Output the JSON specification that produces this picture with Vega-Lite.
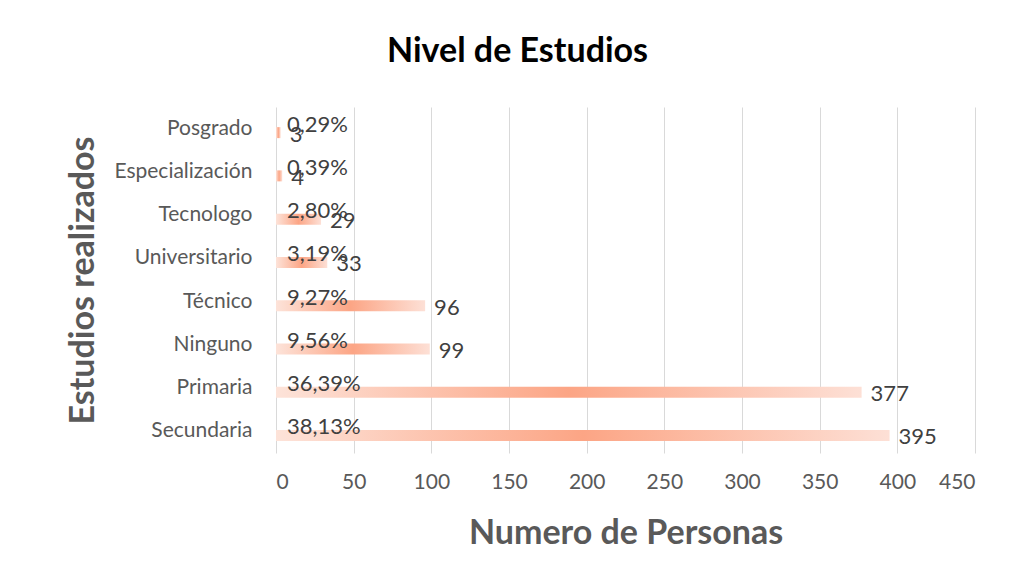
{
  "$schema": "https://vega.github.io/schema/vega-lite/v6.json",
  "width": 699,
  "height": 346,
  "autosize": "none",
  "padding": {"left": 276, "top": 107, "right": 49, "bottom": 127},
  "background": "white",
  "config": {
    "font": "Lato",
    "view": {"stroke": null}
  },
  "title": {
    "text": "Nivel de Estudios",
    "font": "Lato",
    "fontSize": 34,
    "fontWeight": "bold",
    "color": "#000000",
    "anchor": "middle",
    "frame": "group",
    "dx": -108,
    "baseline": "alphabetic",
    "offset": 11
  },
  "data": {
    "values": [
      {"nivel": "Posgrado", "personas": 3, "pct": "0,29%"},
      {"nivel": "Especialización", "personas": 4, "pct": "0,39%"},
      {"nivel": "Tecnologo", "personas": 29, "pct": "2,80%"},
      {"nivel": "Universitario", "personas": 33, "pct": "3,19%"},
      {"nivel": "Técnico", "personas": 96, "pct": "9,27%"},
      {"nivel": "Ninguno", "personas": 99, "pct": "9,56%"},
      {"nivel": "Primaria", "personas": 377, "pct": "36,39%"},
      {"nivel": "Secundaria", "personas": 395, "pct": "38,13%"}
    ]
  },
  "encoding": {
    "y": {
      "field": "nivel",
      "type": "nominal",
      "sort": ["Posgrado", "Especialización", "Tecnologo", "Universitario", "Técnico", "Ninguno", "Primaria", "Secundaria"],
      "scale": {"paddingInner": 0, "paddingOuter": 0},
      "axis": {
        "title": "Estudios realizados",
        "titleFont": "Lato",
        "titleFontSize": 34,
        "titleFontWeight": "bold",
        "titleColor": "#595959",
        "titlePadding": 13,
        "labelFont": "Lato",
        "labelFontSize": 21,
        "labelColor": "#595959",
        "labelPadding": 24,
        "ticks": false,
        "domain": false,
        "grid": false
      }
    }
  },
  "layer": [
    {
      "mark": {
        "type": "bar",
        "height": 11,
        "yOffset": 4,
        "color": {
          "gradient": "linear",
          "x1": 0, "x2": 1, "y1": 0, "y2": 0,
          "stops": [
            {"offset": 0, "color": "#fde3d9"},
            {"offset": 0.5, "color": "#fca585"},
            {"offset": 1, "color": "#fde0d6"}
          ]
        }
      },
      "encoding": {
        "x": {
          "field": "personas",
          "type": "quantitative",
          "scale": {"domain": [0, 450], "nice": false},
          "axis": {
            "title": "Numero de Personas",
            "titleFont": "Lato",
            "titleFontSize": 34,
            "titleFontWeight": "bold",
            "titleColor": "#595959",
            "titlePadding": 24,
            "values": [0, 50, 100, 150, 200, 250, 300, 350, 400, 450],
            "labelFont": "Lato",
            "labelFontSize": 21,
            "labelColor": "#595959",
            "labelPadding": 18,
            "ticks": false,
            "domain": false,
            "grid": true,
            "gridColor": "#d9d9d9",
            "gridWidth": 1
          }
        }
      }
    },
    {
      "mark": {"type": "text", "align": "left", "baseline": "middle", "dx": 9, "yOffset": 6, "fontSize": 22, "font": "Lato", "color": "#404040"},
      "encoding": {
        "x": {"field": "personas", "type": "quantitative"},
        "text": {"field": "personas", "type": "quantitative"}
      }
    },
    {
      "mark": {"type": "text", "align": "left", "baseline": "middle", "dx": 11, "yOffset": -4, "fontSize": 22, "font": "Lato", "color": "#404040"},
      "encoding": {
        "x": {"datum": 0, "type": "quantitative"},
        "text": {"field": "pct", "type": "nominal"}
      }
    }
  ]
}
